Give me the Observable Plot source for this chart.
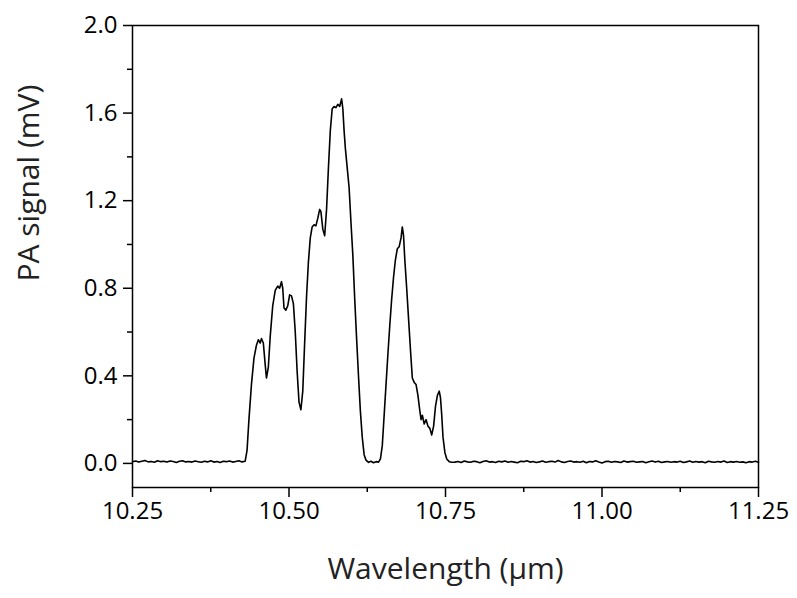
<!DOCTYPE html>
<html><head><meta charset="utf-8">
<script src="https://cdn.jsdelivr.net/npm/d3@7"></script>
<script src="https://cdn.jsdelivr.net/npm/@observablehq/plot@0.6"></script>
<style>body{margin:0;background:#fff}</style></head>
<body><div id="chart"></div>
<script>
// Baseline samples (step 0.005 µm)
const sampleStep = 0.005;
const leftStart = 10.25;
const leftBaseline = [0.008,0.011,0.006,0.010,0.013,0.007,0.009,0.005,0.012,0.008,0.010,0.006,0.011,0.009,0.004,0.010,0.012,0.007,0.009,0.006,0.011,0.008,0.005,0.010,0.007,0.012,0.006,0.009,0.004,0.010,0.008,0.011,0.006,0.009,0.012,0.007];
const rightStart = 10.765;
const rightBaseline = [
0.006,0.009,0.004,0.011,0.007,0.005,0.010,0.008,0.003,0.009,
0.012,0.006,0.008,0.004,0.010,0.007,0.011,0.005,0.009,0.006,
0.003,0.010,0.008,0.012,0.006,0.009,0.004,0.007,0.011,0.005,
0.008,0.010,0.006,0.013,0.007,0.004,0.009,0.011,0.006,0.008,
0.005,0.010,0.003,0.009,0.007,0.012,0.006,0.002,0.008,0.010,
0.005,0.009,0.007,0.004,0.011,0.006,0.008,0.010,0.005,0.007,
0.009,0.003,0.008,0.011,0.006,0.010,0.004,0.007,0.009,0.005,
0.008,0.006,0.010,0.004,0.007,0.011,0.005,0.009,0.006,0.008,
0.003,0.010,0.007,0.005,0.009,0.006,0.011,0.004,0.008,0.006,
0.009,0.005,0.007,0.003,0.008,0.006,0.010,0.005];

// Emission band region
const peakWavelength = [10.430,10.433,10.436,10.440,10.444,10.448,10.451,10.454,10.456,10.459,10.462,10.464,10.467,10.470,10.474,10.478,10.482,10.485,10.488,10.490,10.492,10.495,10.498,10.501,10.504,10.507,10.510,10.513,10.516,10.519,10.522,10.525,10.528,10.531,10.534,10.537,10.540,10.543,10.546,10.549,10.551,10.554,10.557,10.560,10.563,10.566,10.569,10.572,10.575,10.578,10.581,10.584,10.586,10.588,10.590,10.593,10.596,10.599,10.602,10.605,10.608,10.611,10.614,10.617,10.620,10.623,10.627,10.631,10.635,10.639,10.643,10.646,10.649,10.652,10.655,10.658,10.661,10.664,10.667,10.670,10.673,10.676,10.679,10.681,10.683,10.685,10.688,10.691,10.694,10.697,10.700,10.703,10.706,10.709,10.711,10.713,10.716,10.719,10.722,10.725,10.728,10.731,10.734,10.737,10.740,10.742,10.744,10.746,10.749,10.752,10.756,10.760];
const peakSignal = [0.01,0.06,0.20,0.36,0.48,0.54,0.565,0.55,0.57,0.55,0.45,0.39,0.44,0.58,0.72,0.79,0.81,0.80,0.83,0.80,0.71,0.70,0.72,0.77,0.765,0.73,0.60,0.42,0.28,0.245,0.33,0.55,0.76,0.92,1.03,1.08,1.09,1.085,1.12,1.16,1.15,1.07,1.04,1.16,1.35,1.52,1.62,1.63,1.625,1.64,1.63,1.665,1.62,1.52,1.44,1.35,1.26,1.10,0.95,0.75,0.57,0.40,0.24,0.12,0.04,0.015,0.005,0.01,0.003,0.008,0.006,0.02,0.08,0.22,0.36,0.50,0.63,0.75,0.85,0.93,0.98,0.99,1.03,1.08,1.04,0.93,0.80,0.66,0.52,0.39,0.37,0.36,0.31,0.24,0.20,0.22,0.18,0.20,0.17,0.16,0.13,0.17,0.26,0.31,0.33,0.30,0.22,0.12,0.05,0.02,0.008,0.005];

const xMajorTicks = [10.25, 10.50, 10.75, 11.00, 11.25];
const xMinorTicks = [10.375, 10.625, 10.875, 11.125];
const yMajorTicks = [0, 0.4, 0.8, 1.2, 1.6, 2.0];
const yMinorTicks = [0.2, 0.6, 1.0, 1.4, 1.8];
const xLabel = "Wavelength (\u03bcm)";
const yLabel = "PA signal (mV)";

const data = [];
leftBaseline.forEach((v, i) => data.push({w: leftStart + i * sampleStep, s: v}));
peakWavelength.forEach((w, i) => data.push({w, s: peakSignal[i]}));
rightBaseline.forEach((v, i) => data.push({w: rightStart + i * sampleStep, s: v}));

const font = "'Open Sans', sans-serif";
const chart = Plot.plot({
  width: 797, height: 598,
  marginLeft: 132, marginRight: 39, marginTop: 25, marginBottom: 111,
  style: {fontFamily: font, fontSize: "24px", color: "#000", background: "#fff"},
  x: {domain: [10.25, 11.25]},
  y: {domain: [-0.11, 2.0]},
  marks: [
    Plot.axisX(xMajorTicks, {tickSize: 10, tickPadding: 4, tickFormat: d3.format(".2f"), strokeWidth: 1.5, label: null, fontSize: 24}),
    Plot.axisX(xMinorTicks, {tickSize: 5, tickFormat: () => "", strokeWidth: 1.5, label: null}),
    Plot.axisY(yMajorTicks, {tickSize: 9, tickPadding: 6, tickFormat: d3.format(".1f"), strokeWidth: 1.5, label: null, fontSize: 24}),
    Plot.axisY(yMinorTicks, {tickSize: 5, tickFormat: () => "", strokeWidth: 1.5, label: null}),
    Plot.line(data, {x: "w", y: "s", stroke: "#000", strokeWidth: 1.6}),
    Plot.frame({stroke: "#000", strokeWidth: 1.5}),
    Plot.text([xLabel], {frameAnchor: "bottom", dy: 82, text: d => d, fontSize: 30, lineAnchor: "middle", fill: "#222"}),
    Plot.text([yLabel], {frameAnchor: "left", dx: -103, dy: 25, rotate: -90, text: d => d, fontSize: 30, lineAnchor: "middle", fill: "#222"})
  ]
});
document.getElementById("chart").appendChild(chart);
</script>
</body></html>
